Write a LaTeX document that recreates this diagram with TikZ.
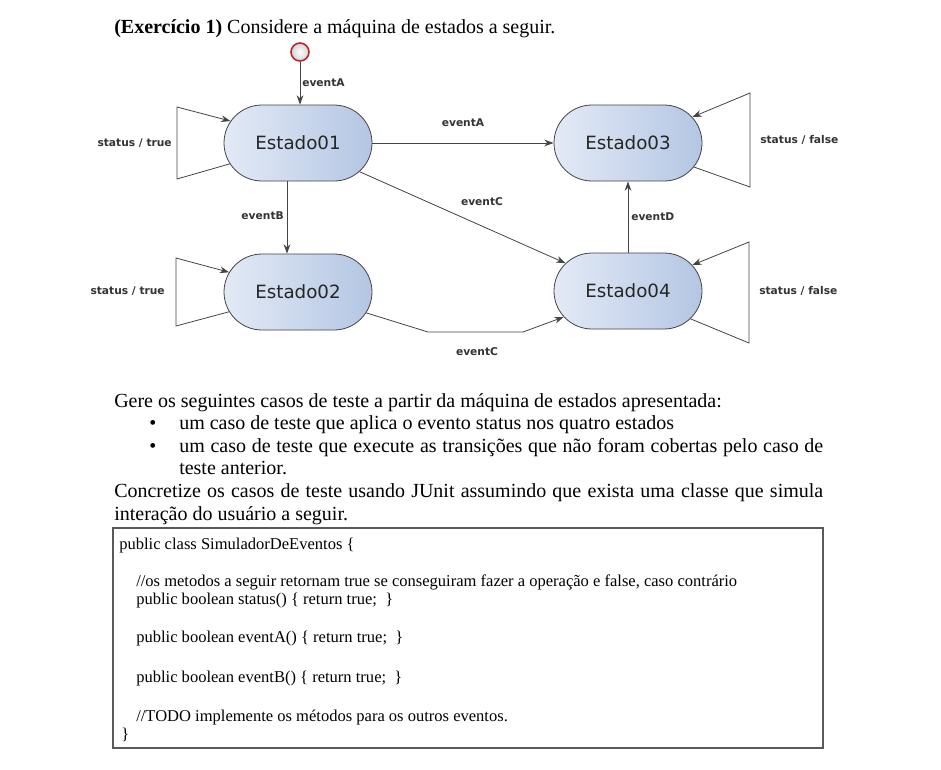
\documentclass[tikz,border=0pt]{standalone}
\usepackage{fontspec}
\setmainfont{Liberation Serif}
\newfontfamily\lblfont{DejaVu Sans}
\usetikzlibrary{shapes.misc,arrows.meta,calc}
\definecolor{stL}{HTML}{E3EAF6}
\definecolor{stR}{HTML}{B4C6E3}
\definecolor{initR}{HTML}{B52A2A}
\definecolor{lineG}{HTML}{444444}
\begin{document}
\begin{tikzpicture}[x=0.75pt,y=-0.75pt,
 state/.style={rounded rectangle, draw=lineG, line width=0.6pt, minimum width=111pt, minimum height=57pt, inner sep=0pt, left color=stL, right color=stR, font=\lblfont\fontsize{13.7}{16}\selectfont, text=black!85},
 lbl/.style={font=\lblfont\bfseries\fontsize{8}{10}\selectfont, text=black!80, inner sep=0pt},
 edge/.style={draw=lineG, line width=0.6pt},
 arr/.style={edge, -{Stealth[length=7pt,width=5pt]}},
 body/.style={font=\fontsize{15}{17}\selectfont, anchor=base west, inner sep=0pt},
 code/.style={font=\fontsize{12.4}{14}\selectfont, anchor=base west, inner sep=0pt},
]
\useasboundingbox (0,0) rectangle (941,769);

% title
\node[body] (title) at (114,33) {\textbf{(Exercício 1)} Considere a máquina de estados a seguir.};

% states
\node[state] (e1) at (298,143) {Estado01};
\node[state] (e3) at (628,143) {Estado03};
\node[state] (e2) at (298,292) {Estado02};
\node[state] (e4) at (628,291) {Estado04};

% initial
\node[circle, draw=initR, line width=1.2pt, minimum size=13.5pt, inner sep=0pt, inner color=white, outer color=gray!35] (init) at (300,52) {};
\draw[arr] (init) -- (init |- e1.north);
\node[lbl, anchor=west] (lA0) at (302,83) {eventA};

% transitions
\draw[arr] (e1.east) -- (e3.west);
\node[lbl] (lA1) at (463,123) {eventA};

\draw[arr] ($(e1.south)+(-11,0)$) -- ($(e2.north)+(-11,0)$);
\node[lbl, anchor=east] (lB) at (284,216) {eventB};

\draw[arr] (e1.-25.4) -- (e4.156);
\node[lbl] (lC1) at (482,202) {eventC};

\coordinate (k1) at (428,332);
\coordinate (k2) at (523,332);
\draw[arr] (e2.-17.4) -- (k1) -- (k2) -- (e4.202.6);
\node[lbl] (lC2) at (477,352) {eventC};

\draw[arr] (e4.north) -- (e3.south);
\node[lbl, anchor=west] (lD) at (631,217) {eventD};

% self loops
\coordinate (a1) at (177,107); \coordinate (b1) at (177,179);
\draw[arr] (e1.197.7) -- (b1) -- (a1) -- (e1.162.8);
\node[lbl, anchor=east] (s1) at (172,143) {status / true};

\coordinate (a2) at (176,258); \coordinate (b2) at (176,326);
\draw[arr] (e2.196) -- (b2) -- (a2) -- (e2.164.6);
\node[lbl, anchor=east] (s2) at (165,291) {status / true};

\coordinate (a3) at (750,93); \coordinate (b3) at (750,187);
\draw[arr] (e3.-20.5) -- (b3) -- (a3) -- (e3.22);
\node[lbl, anchor=west] (s3) at (760,140) {status / false};

\coordinate (a4) at (749,242); \coordinate (b4) at (749,343);
\draw[arr] (e4.-24) -- (b4) -- (a4) -- (e4.22);
\node[lbl, anchor=west] (s4) at (759,291) {status / false};

% text
\node[body] (p1) at (114,407) {Gere os seguintes casos de teste a partir da máquina de estados apresentada:};
\node[body] (bu1) at (149,429) {\textbullet};
\node[body] (p2) at (179,429) {um caso de teste que aplica o evento status nos quatro estados};
\node[body] (bu2) at (149,452) {\textbullet};
\node[body] (p3) at (179,452) {\makebox[483pt][s]{um caso de teste que execute as transições que não foram cobertas pelo caso de}};
\node[body] (p4) at (179,474) {teste anterior.};
\node[body] (p5) at (114,497) {\makebox[531.75pt][s]{Concretize os casos de teste usando JUnit assumindo que exista uma classe que simula}};
\node[body] (p6) at (114,520) {interação do usuário a seguir.};

% code box
\node[draw=black!65, line width=0.9pt, minimum width=532.5pt, minimum height=165pt, inner sep=0pt] (box) at (468,638) {};
\node[code] (c1) at (119,549) {public class SimuladorDeEventos \{};
\node[code] (c2) at (136,586) {//os metodos a seguir retornam true se conseguiram fazer a operação e false, caso contrário};
\node[code] (c3) at (136,604) {public boolean status() \{ return true;~ \}};
\node[code] (c4) at (136,642) {public boolean eventA() \{ return true;~ \}};
\node[code] (c5) at (136,682) {public boolean eventB() \{ return true;~ \}};
\node[code] (c6) at (136,721) {//TODO implemente os métodos para os outros eventos.};
\node[code] (c7) at (121,739) {\}};
\end{tikzpicture}
\end{document}
